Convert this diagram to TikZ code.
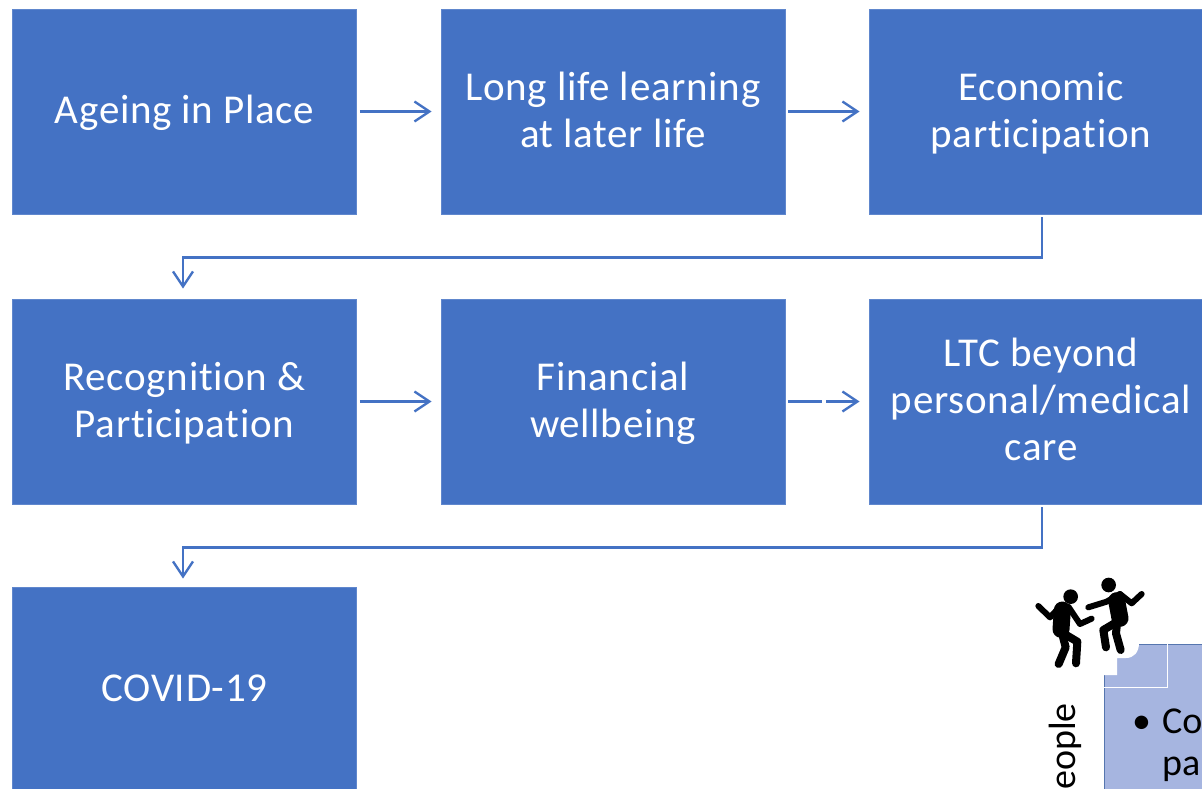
\documentclass[tikz,border=0pt]{standalone}
\usepackage{fontspec}
\setmainfont{Carlito}[Ligatures=NoCommon]
\usetikzlibrary{arrows.meta,calc}
\definecolor{boxblue}{HTML}{4472C4}
\definecolor{paleblue}{HTML}{A6B5E0}
\newcommand\linestrut{\rule[-11.1pt]{0pt}{47pt}}
\tikzset{
  stagebox/.style={fill=boxblue,draw=boxblue!85!white,line width=.8pt,minimum width=344pt,minimum height=205pt,inner sep=0pt,
    text=white,align=center,font=\fontsize{41}{47}\selectfont\addfontfeatures{LetterSpace=1.7}},
  conn/.style={draw=boxblue,line width=2.4pt,-{Straight Barb[length=15pt,width=20pt,line width=2.4pt]},shorten <=3pt},
  fig/.style={draw=black,line cap=round,line join=round},
  paletext/.style={text=black,inner sep=0pt,anchor=base west,font=\fontsize{38}{46}\selectfont},
}
\begin{document}
\begin{tikzpicture}[x=1pt,y=-1pt]
\useasboundingbox (0,0) rectangle (1202,789);
\clip (0,0) rectangle (1202,789);
\fill[white] (0,0) rectangle (1202,789);
\node[stagebox] (a) at (184.5,111.5) {\linestrut Ageing in Place};
\node[stagebox] (b) at (613,111.5) {\linestrut Long life learning\\\linestrut at later life};
\node[stagebox] (c) at (1041,111.5) {\linestrut Economic\\\linestrut participation};
\node[stagebox] (d) at (184.5,401.5) {\linestrut Recognition \&\\\linestrut Participation};
\node[stagebox] (e) at (613,401.5) {\linestrut Financial\\\linestrut wellbeing};
\node[stagebox] (f) at (1041,401.5) {\linestrut LTC beyond\\\linestrut personal/medical\\\linestrut care};
\node[stagebox] (g) at (184.5,689.5) {\linestrut COVID-19};
\draw[conn,shorten >=9pt] (a) -- (b);
\draw[conn,shorten >=9pt] (b) -- (c);
\draw[conn,shorten >=9pt] (d) -- (e);
\draw[conn,shorten >=9pt,dash pattern=on 34pt off 4pt on 200pt off 0pt] (e) -- (f);
\draw[conn,shorten >=10pt] ([xshift=1pt]c.south) -- ++(0,43) -| ([xshift=-1.5pt]d.north);
\draw[conn,shorten >=8pt] ([xshift=1pt]f.south) -- ++(0,43) -| ([xshift=-1.5pt]g.north);
% pale panel with its notched corner
\fill[paleblue] (1104,644) rectangle (1210,800);
\draw[boxblue!70!gray,line width=.8pt] (1104,800) -- (1104,644) -- (1210,644);
\draw[white,line width=.9pt] (1104,687) -- (1167,687) -- (1167,644);
\fill[white] (1103,643) -- (1139,643) .. controls (1139,652) and (1134,658) .. (1126,658) -- (1117,658) -- (1117,675) -- (1103,675) -- cycle;
\node[paletext] (co) at (1132,733) {\makebox[30pt][l]{•}Co};
\node[paletext] (pa) at (1162,775) {pa};
\node[paletext,rotate=90] (people) at (1075,790) {eople};
% dancers
\begin{scope}[shift={(1000,560)},x=.3333pt,y=-.3333pt]
\fill (212,110) circle (22);
\fill (326,75) circle (22);
\draw[fig,line width=6pt] (115,138) -- (150,172) -- (180,140);
\draw[fig,line width=6pt] (205,140) -- (240,192) -- (275,176);
\draw[fig,line width=17pt] (187,150) -- (183,208);
\draw[fig,line width=8pt] (185,215) -- (197,262) -- (176,312);
\draw[fig,line width=8pt] (190,220) -- (232,245) -- (228,310);
\draw[fig,line width=6pt] (265,142) -- (320,125) -- (360,102);
\draw[fig,line width=6pt] (360,102) -- (395,130) -- (425,102);
\draw[fig,line width=17pt] (350,122) -- (360,175);
\draw[fig,line width=8pt] (352,185) -- (310,210) -- (318,262);
\draw[fig,line width=8pt] (352,180) -- (348,220) -- (362,270);
\end{scope}
\end{tikzpicture}
\end{document}
